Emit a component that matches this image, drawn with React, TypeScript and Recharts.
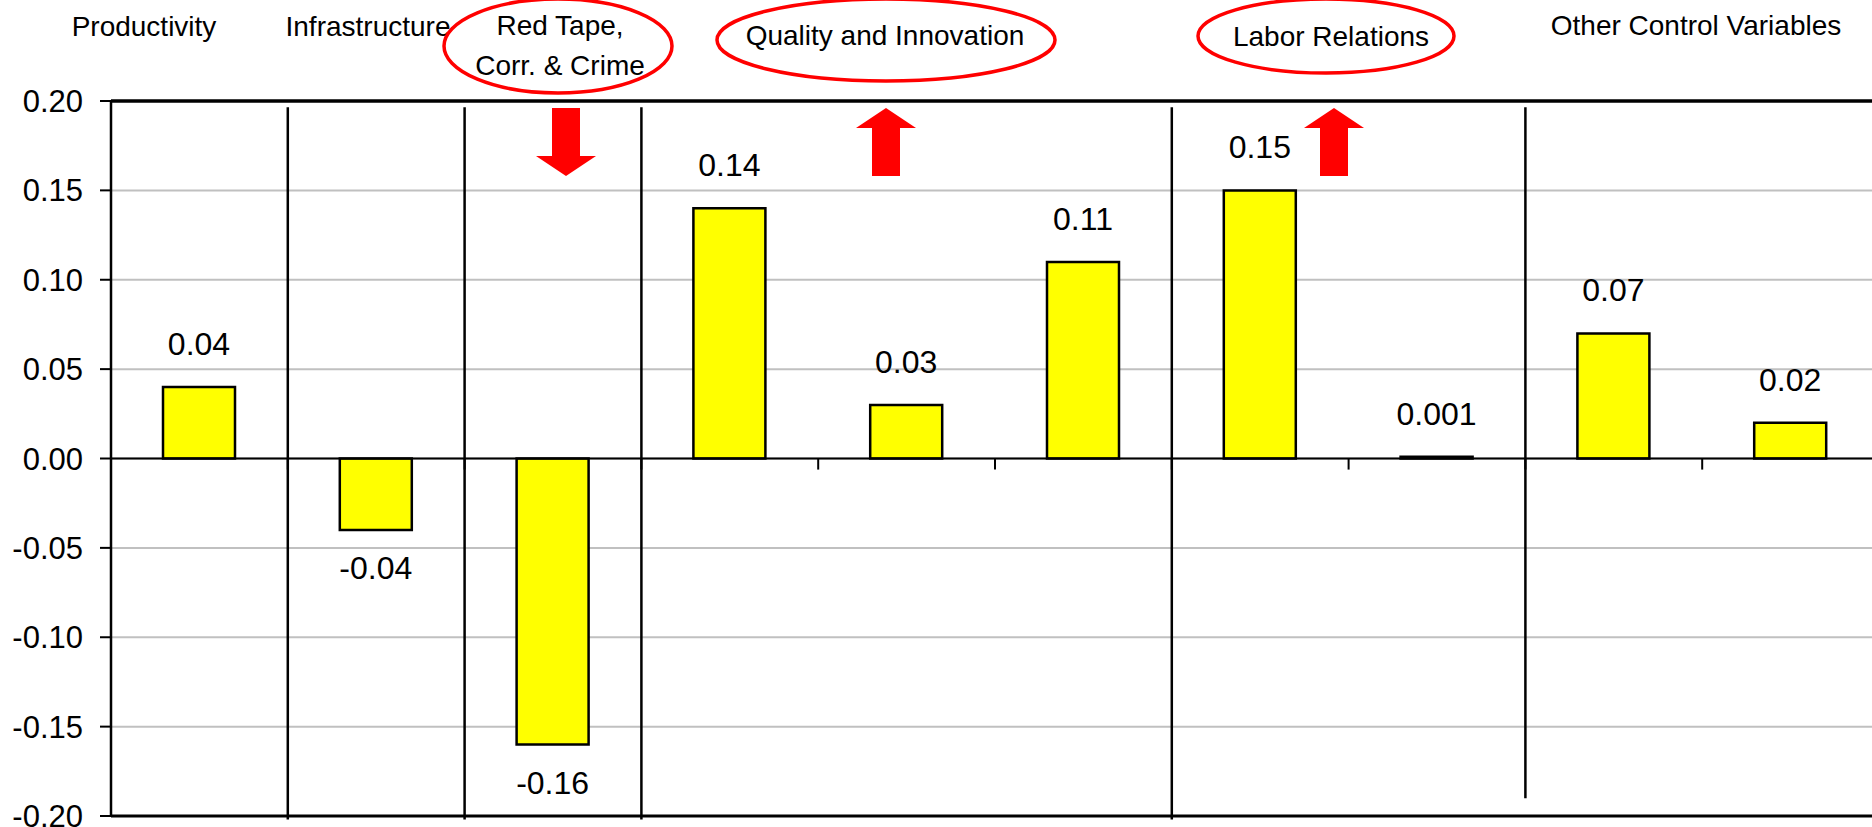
import React from "react";
import { Bar, BarChart, CartesianGrid, LabelList, ReferenceLine, XAxis, YAxis } from "recharts";

// One bar per variable, grouped under the header names
const categories = ["prod", "infra", "redTape", "quality1", "quality2", "quality3", "labor1", "labor2", "other1", "other2"];
const coefficients = [0.04, -0.04, -0.16, 0.14, 0.03, 0.11, 0.15, 0.001, 0.07, 0.02];
const yTicks = [-0.2, -0.15, -0.1, -0.05, 0, 0.05, 0.1, 0.15, 0.2];

const groupNames = [
  ["Productivity"],
  ["Infrastructure"],
  ["Red Tape,", "Corr. & Crime"],
  ["Quality and Innovation"],
  ["Labor Relations"],
  ["Other Control Variables"],
];
// groups that get a circled header and an arrow
const highlighted = [false, false, true, true, true, false];
const arrowUp = [false, false, false, true, true, false];

// first category of every group after the first one
const dividerStarts = ["infra", "redTape", "quality1", "labor1", "other1"];

const W = 1872;
const H = 827;
const FONT = "'Liberation Sans', Arial, sans-serif";

// header placement (px)
const headerLayout = [
  { x: 144, y: 36 },
  { x: 368, y: 36 },
  { x: 560, y: 35, ellipse: { cx: 558, cy: 46, rx: 114, ry: 47 }, arrow: 566 },
  { x: 885, y: 45, ellipse: { cx: 886, cy: 40, rx: 169, ry: 41 }, arrow: 886 },
  { x: 1331, y: 46, ellipse: { cx: 1326, cy: 36, rx: 128, ry: 37 }, arrow: 1334 },
  { x: 1696, y: 35 },
];
const dividerBottoms = [-0.202, -0.202, -0.202, -0.202, -0.19];

const data = categories.map((name, i) => ({ name, value: coefficients[i] }));

const ValueLabel = (props: any) => {
  const vb = props.viewBox || {};
  const x = props.x ?? vb.x;
  const y = props.y ?? vb.y;
  const width = props.width ?? vb.width;
  const height = props.height ?? vb.height;
  const value = Number(props.value);
  const top = Math.min(y, y + height);
  const bottom = Math.max(y, y + height);
  const ty = value >= 0 ? top - 32 : bottom + 49;
  return (
    <text x={x + width / 2} y={ty} textAnchor="middle" fontSize={32} fill="#000" fontFamily={FONT}>
      {String(value)}
    </text>
  );
};

const Arrow = ({ cx, up }: { cx: number; up: boolean }) => {
  const pts = up
    ? [[cx, 108], [cx + 30, 128], [cx + 14, 128], [cx + 14, 176], [cx - 14, 176], [cx - 14, 128], [cx - 30, 128]]
    : [[cx - 14, 108], [cx + 14, 108], [cx + 14, 156], [cx + 30, 156], [cx, 176], [cx - 30, 156], [cx - 14, 156]];
  return <polygon points={pts.map((p) => p.join(",")).join(" ")} fill="#ff0000" />;
};

const Headers = () => (
  <svg
    width={W}
    height={H}
    style={{ position: "absolute", left: 0, top: 0, pointerEvents: "none" }}
    fontFamily={FONT}
  >
    {groupNames.map((lines, i) => {
      const l = headerLayout[i];
      return (
        <g key={i}>
          {highlighted[i] && l.ellipse && (
            <ellipse {...l.ellipse} fill="none" stroke="#ff0000" strokeWidth={3.5} />
          )}
          {lines.map((t, j) => (
            <text key={j} x={l.x} y={l.y + j * 40} textAnchor="middle" fontSize={28} fill="#000">
              {t}
            </text>
          ))}
          {highlighted[i] && l.arrow && <Arrow cx={l.arrow} up={arrowUp[i]} />}
        </g>
      );
    })}
  </svg>
);

export default function App() {
  return (
    <div
      style={{
        position: "absolute",
        left: 0,
        top: 0,
        width: W,
        height: H,
        overflow: "hidden",
        background: "#fff",
        fontFamily: FONT,
      }}
    >
      <BarChart width={1880} height={H} data={data} margin={{ top: 101, right: 1, left: 0, bottom: 10 }}>
        <CartesianGrid vertical={false} stroke="#c0c0c0" strokeWidth={2} />
        <XAxis
          dataKey="name"
          tick={false}
          tickLine={false}
          height={1}
          axisLine={{ stroke: "#000", strokeWidth: 3 }}
        />
        <YAxis
          type="number"
          domain={[-0.2, 0.2]}
          ticks={yTicks}
          interval={0}
          width={111}
          tickSize={11}
          tickMargin={17}
          tickFormatter={(v: number) => v.toFixed(2)}
          axisLine={{ stroke: "#000", strokeWidth: 2.5 }}
          tickLine={{ stroke: "#000", strokeWidth: 2 }}
          tick={{ fill: "#000", fontSize: 31 }}
        />
        <ReferenceLine y={0.2} stroke="#000" strokeWidth={3.5} />
        <ReferenceLine y={0} stroke="#000" strokeWidth={2} />
        {categories.slice(1).map((c) => (
          <ReferenceLine
            key={"tick-" + c}
            segment={[{ x: c, y: 0 }, { x: c, y: -0.0062 }]}
            position="start"
            stroke="#000"
            strokeWidth={2}
            ifOverflow="visible"
          />
        ))}
        {dividerStarts.map((c, i) => (
          <ReferenceLine
            key={"div-" + c}
            segment={[{ x: c, y: 0.1965 }, { x: c, y: dividerBottoms[i] }]}
            position="start"
            stroke="#000"
            strokeWidth={2.5}
            ifOverflow="visible"
          />
        ))}
        <Bar dataKey="value" fill="#ffff00" stroke="#000" strokeWidth={2.5} barSize={72} isAnimationActive={false}>
          <LabelList dataKey="value" content={<ValueLabel />} />
        </Bar>
      </BarChart>
      <Headers />
    </div>
  );
}
